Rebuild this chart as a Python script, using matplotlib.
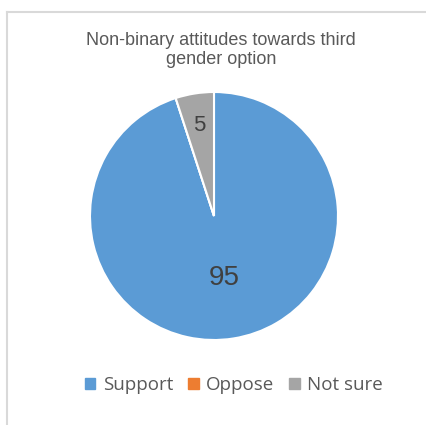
import matplotlib
matplotlib.use("Agg")
import numpy as np
import matplotlib.pyplot as plt
from matplotlib.lines import Line2D

# data
labels = ["Support", "Oppose", "Not sure"]
values = [95, 0, 5]
colors = ["#5B9BD5", "#ED7D31", "#A5A5A5"]
title = "Non-binary attitudes towards third\ngender option"

W, H = 427, 425
fig = plt.figure(figsize=(W / 100, H / 100), dpi=100)

# light frame (top and left edges visible)
fig.add_artist(Line2D([7 / W, 1.0], [1 - 12 / H, 1 - 12 / H],
                      color="#D9D9D9", lw=1.5, transform=fig.transFigure))
fig.add_artist(Line2D([7 / W, 7 / W], [0, 1 - 12 / H],
                      color="#D9D9D9", lw=1.5, transform=fig.transFigure))

fig.text(221 / W, 1 - 50 / H, title, ha="center", va="center",
         fontsize=13, color="#595959", family="Liberation Sans",
         linespacing=1.2)

# pie: center (214, 216), radius 124 px
cx, cy, rad = 214, 216, 124
ax = fig.add_axes([(cx - rad) / W, 1 - (cy + rad) / H, 2 * rad / W, 2 * rad / H])
wedges, _ = ax.pie(values, colors=colors, startangle=90, counterclock=False,
                   wedgeprops=dict(edgecolor="white", linewidth=1.5))
ax.set_xlim(-1, 1)
ax.set_ylim(-1, 1)
ax.set_aspect("equal")

# data labels
for w, v in zip(wedges, values):
    if v == 0:
        continue
    ang = np.deg2rad((w.theta1 + w.theta2) / 2)
    r = 0.51 if v > 50 else 0.74
    ax.text(r * np.cos(ang), r * np.sin(ang), str(v), ha="center", va="center",
            fontsize=20 if v > 50 else 16, color="#404040",
            family="Liberation Sans")

handles = [plt.Rectangle((0, 0), 1, 1, color=c) for c in colors]
fig.legend(handles, labels, loc="center", bbox_to_anchor=(234 / W, 1 - 385 / H),
           ncol=3, frameon=False, handlelength=0.55, handleheight=0.55,
           handletextpad=0.4, columnspacing=0.8,
           prop=dict(family="Open Sans", size=13.5), labelcolor="#595959")

fig.savefig("out.png", dpi=100)
